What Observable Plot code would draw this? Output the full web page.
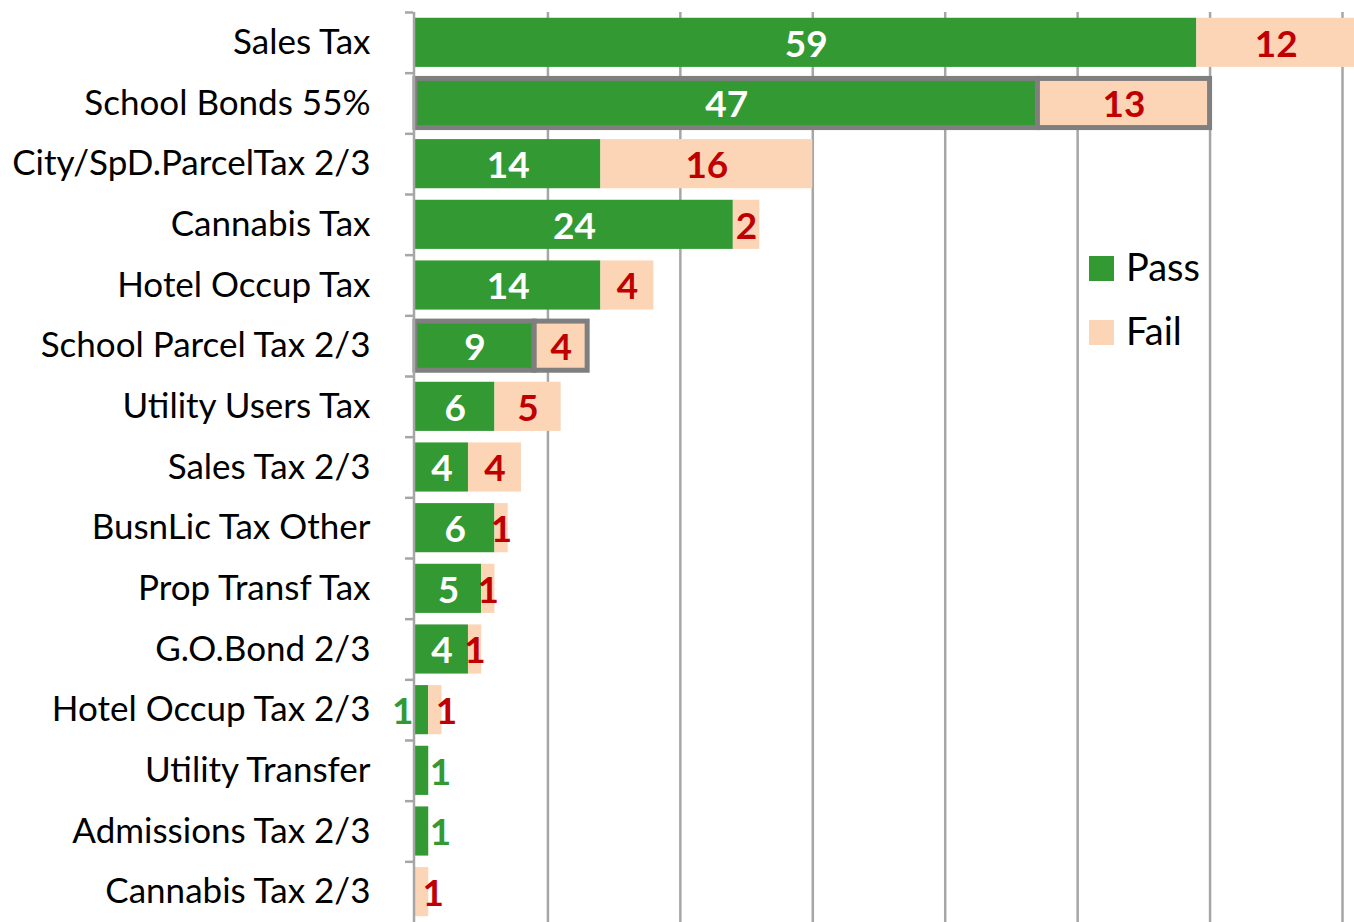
<!DOCTYPE html>
<html>
<head>
<meta charset="utf-8">
<script src="https://cdn.jsdelivr.net/npm/d3@7"></script>
<script src="https://cdn.jsdelivr.net/npm/@observablehq/plot@0.6"></script>
<style>
  html, body { margin: 0; padding: 0; background: #fff; }
  #wrap { position: relative; width: 1354px; height: 922px; overflow: hidden; }
  #legend { position: absolute; left: 1089px; top: 234px; font-family: Lato, "Open Sans", sans-serif; font-size: 38px; color: #000; line-height: 64px; }
  #legend .sw { display: inline-block; width: 25px; height: 25px; margin-right: 12px; vertical-align: 0px; }
</style>
</head>
<body>
<div id="wrap">
  <div id="chart"></div>
  <div id="legend"></div>
</div>
<script>
const categories = [
  "Sales Tax", "School Bonds 55%", "City/SpD.ParcelTax 2/3", "Cannabis Tax",
  "Hotel Occup Tax", "School Parcel Tax 2/3", "Utility Users Tax", "Sales Tax 2/3",
  "BusnLic Tax Other", "Prop Transf Tax", "G.O.Bond 2/3", "Hotel Occup Tax 2/3",
  "Utility Transfer", "Admissions Tax 2/3", "Cannabis Tax 2/3"
];
const pass = [59, 47, 14, 24, 14, 9, 6, 4, 6, 5, 4, 1, 1, 1, 0];
const fail = [12, 13, 16, 2, 4, 4, 5, 4, 1, 1, 1, 1, 0, 0, 1];
const highlighted = ["School Bonds 55%", "School Parcel Tax 2/3"];
const xTicks = [0, 10, 20, 30, 40, 50, 60, 70];
const seriesNames = ["Pass", "Fail"];
const seriesColors = ["#339933", "#fbd5b5"];

const W = 1354, H = 922, mTop = 12, mBottom = 0, mLeft = 415, mRight = 12;
const step = (H - mTop - mBottom) / categories.length;
const font = "Lato, 'Open Sans', sans-serif";

const segs = categories.flatMap((c, i) => [
  {cat: c, status: "Pass", value: pass[i], x1: 0, x2: pass[i], other: fail[i], hl: highlighted.includes(c)},
  {cat: c, status: "Fail", value: fail[i], x1: pass[i], x2: pass[i] + fail[i], other: pass[i], hl: highlighted.includes(c)}
]).filter(d => d.value > 0);

// label placement
const passInside = segs.filter(d => d.status === "Pass" && d.value > 1);
const passLeft = segs.filter(d => d.status === "Pass" && d.value <= 1 && d.other > 0);
const passRight = segs.filter(d => d.status === "Pass" && d.value <= 1 && d.other === 0);
const failCenter = segs.filter(d => d.status === "Fail" && d.other > 1);
const failShift = segs.filter(d => d.status === "Fail" && d.other <= 1);

const chart = Plot.plot({
  width: W, height: H,
  marginTop: mTop, marginBottom: mBottom, marginLeft: mLeft, marginRight: mRight,
  style: {fontFamily: font, background: "#fff"},
  x: {domain: [0, 70], axis: null},
  y: {domain: categories, paddingInner: 0.19, paddingOuter: 0.095, round: false, axis: null},
  color: {domain: seriesNames, range: seriesColors},
  marks: [
    Plot.ruleX(xTicks.filter(t => t > 0), {stroke: "#a6a6a6", strokeWidth: 2.5}),
    Plot.barX(segs, {
      x1: "x1", x2: "x2", y: "cat", fill: "status",
      stroke: d => d.hl ? "#7f7f7f" : "none", strokeWidth: 5
    }),
    Plot.ruleX([0], {stroke: "#a6a6a6", strokeWidth: 2.5, dx: -1.5}),
    Plot.ruleY(categories, {y: d => d, x1: 0, x2: 0, insetLeft: -10, insetRight: 2, dy: -step / 2, stroke: "#a6a6a6", strokeWidth: 2.5}),
    Plot.axisY({tickSize: 0, tickPadding: 45, fontSize: 35, fill: "#000", label: null, textAnchor: "end"}),
    Plot.text(passInside, {x: d => (d.x1 + d.x2) / 2, y: "cat", text: d => String(d.value), fill: "#fff", fontSize: 37, fontWeight: "bold", dy: 2}),
    Plot.text(passLeft, {x: 0, y: "cat", text: d => String(d.value), fill: "#339933", fontSize: 37, fontWeight: "bold", textAnchor: "end", dx: -2, dy: 2}),
    Plot.text(passRight, {x: "x2", y: "cat", text: d => String(d.value), fill: "#339933", fontSize: 37, fontWeight: "bold", textAnchor: "start", dx: 1, dy: 2}),
    Plot.text(failCenter, {x: d => (d.x1 + d.x2) / 2, y: "cat", text: d => String(d.value), fill: "#c00000", fontSize: 37, fontWeight: "bold", dy: 2}),
    Plot.text(failShift, {x: d => (d.x1 + d.x2) / 2, y: "cat", text: d => String(d.value), fill: "#c00000", fontSize: 37, fontWeight: "bold", dx: 11, dy: 2})
  ]
});
document.getElementById("chart").appendChild(chart);

const legend = document.getElementById("legend");
seriesNames.forEach((n, i) => {
  const row = document.createElement("div");
  row.innerHTML = `<span class="sw" style="background:${seriesColors[i]}"></span>${n}`;
  legend.appendChild(row);
});
</script>
</body>
</html>
